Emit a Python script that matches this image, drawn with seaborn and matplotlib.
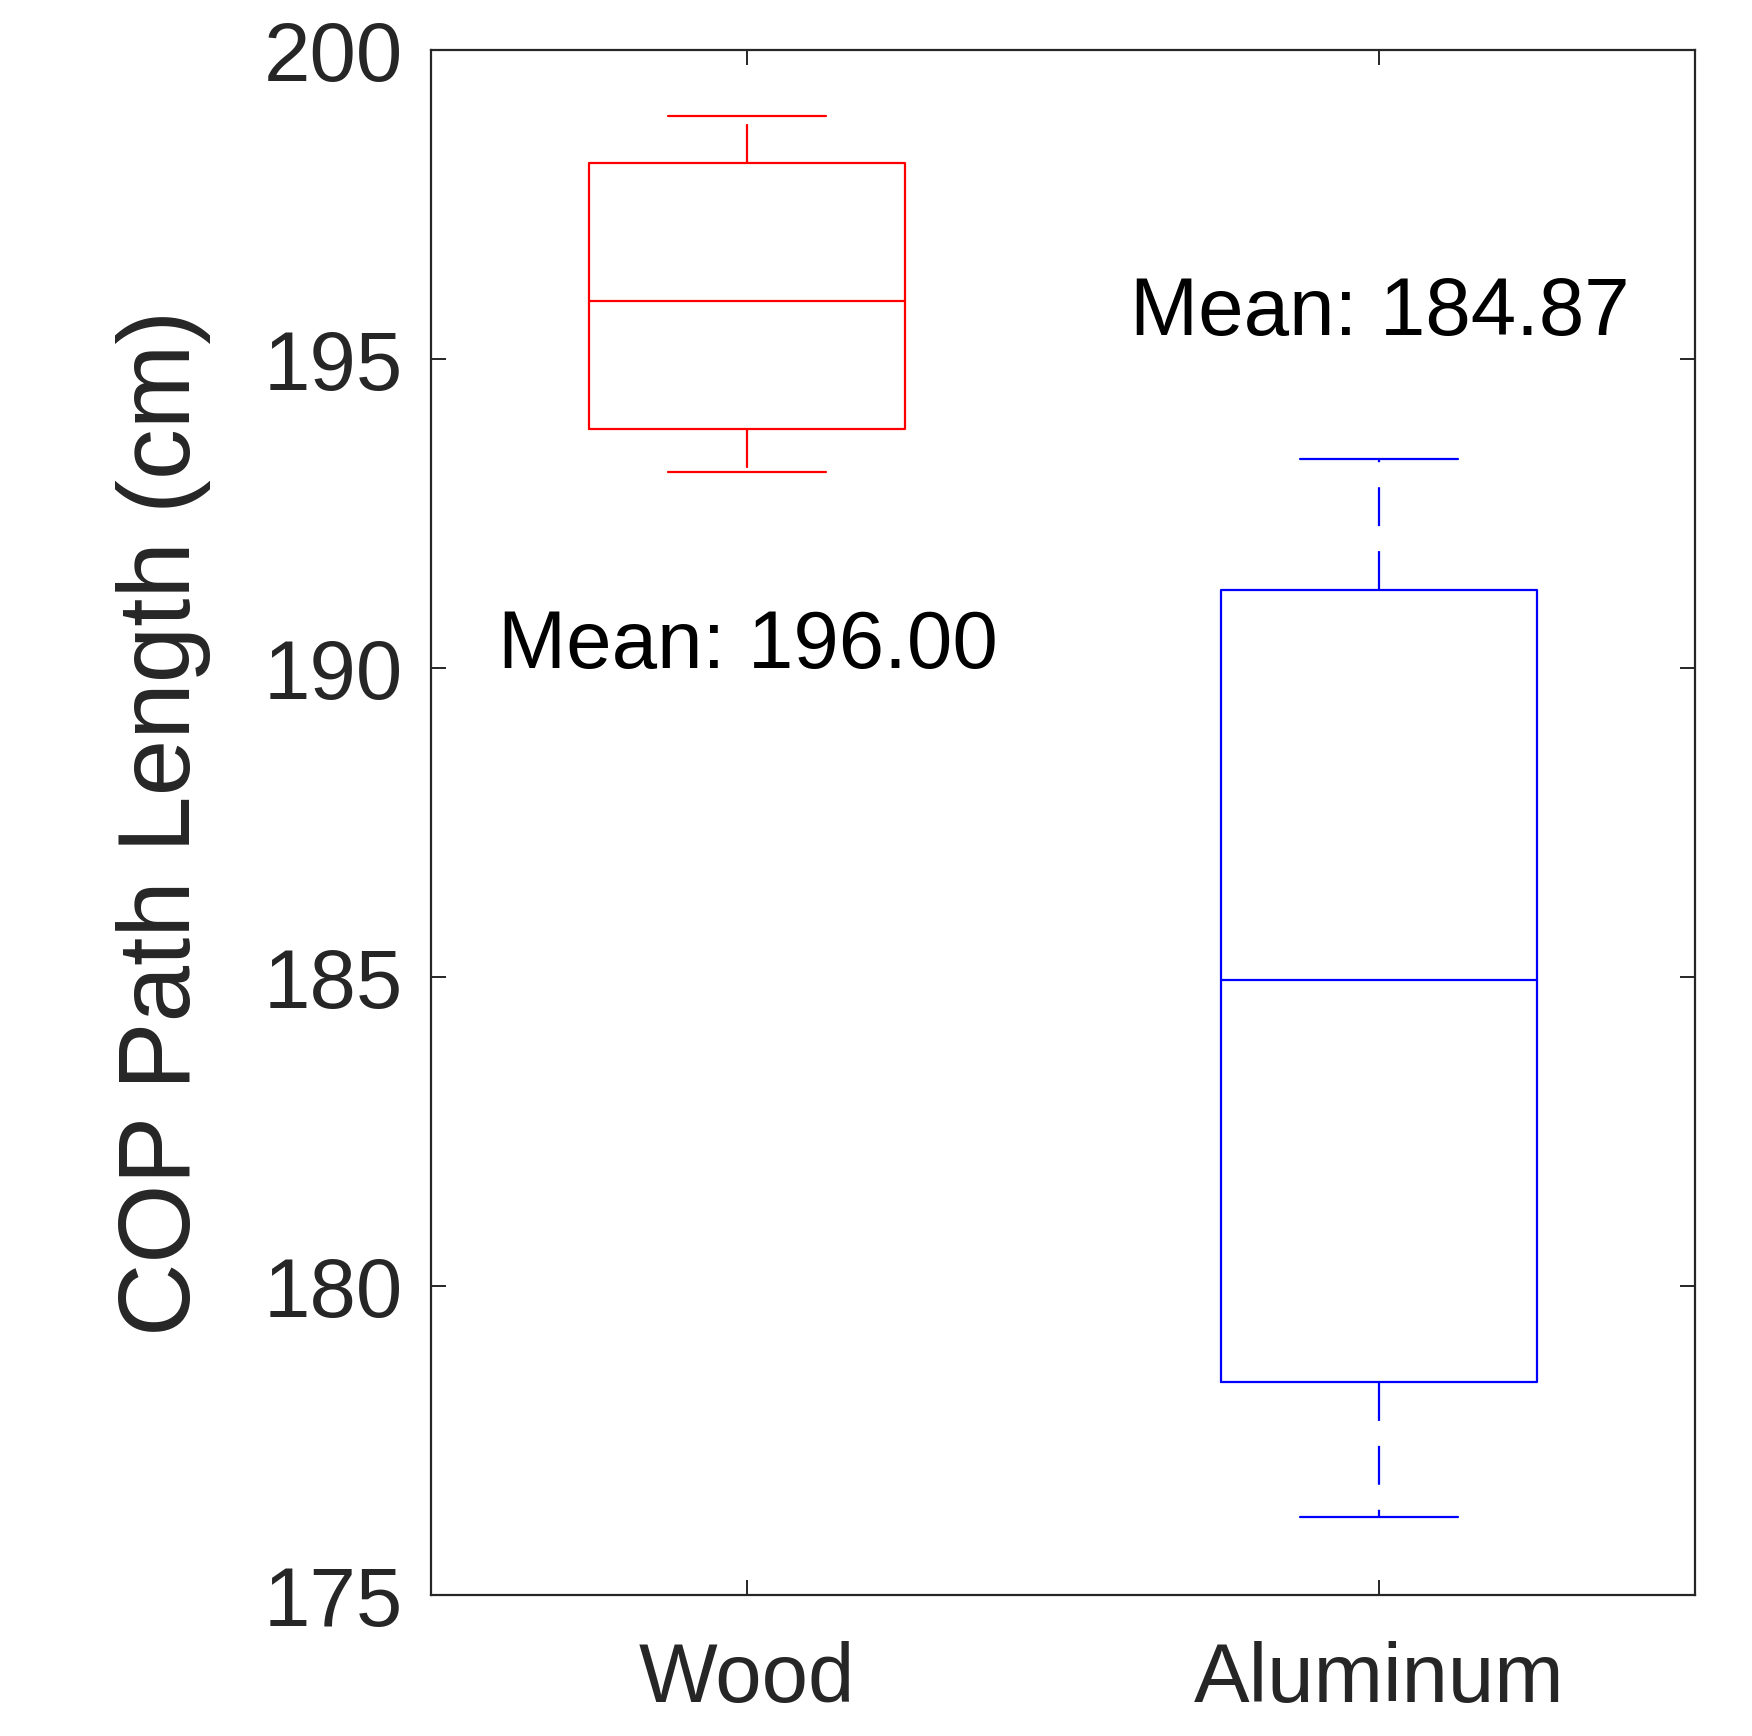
import numpy as np
import pandas as pd
import matplotlib
matplotlib.use("Agg")
import matplotlib.pyplot as plt
import seaborn as sns

# Data (five-number summaries per surface)
categories = ["Wood", "Aluminum"]
wood_values = [193.17, 193.87, 195.95, 198.17, 198.93]       # min, q1, median, q3, max
aluminum_values = [176.26, 178.45, 184.96, 191.27, 193.38]   # min, q1, median, q3, max
mean_values = [196.00, 184.87]
mean_label_y = [190.0, 195.39]
yticks = [175, 180, 185, 190, 195, 200]
colors = ["#FF0000", "#0000FF"]

df = pd.DataFrame({
    "Surface": ["Wood"] * len(wood_values) + ["Aluminum"] * len(aluminum_values),
    "Length": wood_values + aluminum_values,
})

sns.set_style("ticks")
plt.rcParams["font.family"] = ["Liberation Sans", "DejaVu Sans"]
plt.rcParams["lines.scale_dashes"] = False

fig = plt.figure(figsize=(8.76, 8.68), dpi=200)
ax = fig.add_axes([0.246, 0.0812, 0.7215, 0.8898])

lw = 0.8
sns.boxplot(
    data=df, x="Surface", y="Length", hue="Surface", order=categories,
    hue_order=categories, palette=colors, fill=False, width=0.5,
    whis=10, linewidth=lw, legend=False, ax=ax,
    whiskerprops={"linestyle": (0, (14, 9))},
)

for i, (m, yl) in enumerate(zip(mean_values, mean_label_y)):
    ax.text(i + 0.002, yl, f"Mean: {m:.2f}", ha="center", va="baseline",
            fontsize=29.4, color="black")

ax.set_xlim(-0.5, 1.5)
ax.set_ylim(175, 200)
ax.set_yticks(yticks)
ax.set_yticklabels([str(t) for t in yticks])
ax.set_xlabel("")
ax.set_ylabel("COP Path Length (cm)", fontsize=36.6, color="#262626", labelpad=19)
ax.tick_params(direction="in", length=5.5, width=0.7, color="#262626",
               labelsize=30, labelcolor="#262626", top=True, right=True, pad=10)
ax.tick_params(axis="x", pad=16.5)
for s in ax.spines.values():
    s.set_visible(True)
    s.set_linewidth(0.8)
    s.set_color("#262626")

fig.savefig("out.png", dpi=200, facecolor="white")
